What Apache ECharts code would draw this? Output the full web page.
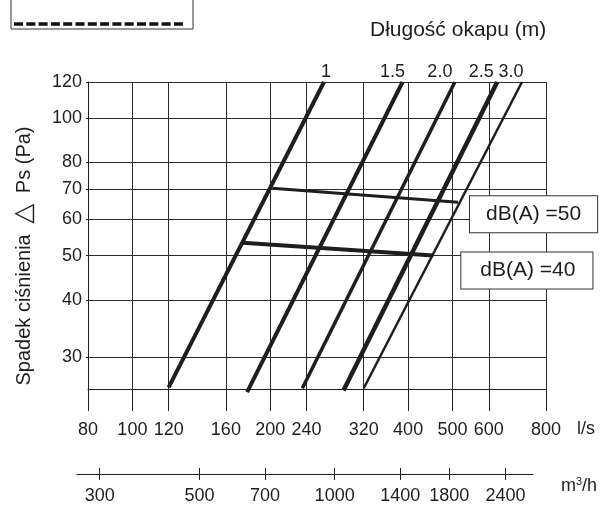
<!DOCTYPE html>
<html>
<head>
<meta charset="UTF-8">
<title>Spadek ciśnienia</title>
<style>
  html, body { margin: 0; padding: 0; background: #fff; }
  #main { width: 602px; height: 505px; }
</style>
<script src="https://cdn.jsdelivr.net/npm/echarts@6/dist/echarts.min.js"></script>
</head>
<body>
<div id="main"></div>
<script>
// hood lengths (m) and their lines: [flow l/s, pressure Pa]
const hoodLengths = ['1', '1.5', '2.0', '2.5', '3.0'];
const line10 = [[120, 25.7], [262, 120]];
const line15 = [[178, 25.1], [389, 120]];
const line20 = [[235, 25.6], [506, 120]];
const line25 = [[289, 25.3], [626, 120]];
const line30 = [[320, 25.6], [709, 120]];
const hoodLines = [line10, line15, line20, line25, line30];

// noise level lines
const db50 = [[202, 70.2], [514, 65.4]];
const db40 = [[174, 53.3], [454, 50.0]];
const noiseNames = ['dB(A) =50', 'dB(A) =40'];

// axes
const flowTicks = [80, 100, 120, 160, 200, 240, 320, 400, 500, 600, 800];
const pressureTicks = [30, 40, 50, 60, 70, 80, 100, 120];
const m3hTicks = [300, 500, 700, 1000, 1400, 1800, 2400];

const FONT = '"Liberation Sans", Arial, sans-serif';
const INK = '#1e1e1e';

var myChart = echarts.init(document.getElementById('main'));

// look of each hood line (widths)
const widths = [4, 4, 3.5, 4.5, 2.5];
const labelShift = [2, -10, -15, -16, -11];

var series = hoodLines.map(function (d, i) {
  return {
    type: 'line',
    name: hoodLengths[i],
    data: d,
    showSymbol: false,
    clip: false,
    lineStyle: { color: INK, width: widths[i] },
    endLabel: {
      show: true,
      formatter: hoodLengths[i],
      align: 'center',
      verticalAlign: 'bottom',
      distance: 0,
      offset: [labelShift[i], -1],
      color: INK,
      fontFamily: FONT,
      fontSize: 18
    }
  };
});

function noiseSeries(data, name, width, dist, dy, padL, padR) {
  return {
    type: 'line',
    name: name,
    data: data,
    showSymbol: false,
    clip: false,
    lineStyle: { color: INK, width: width },
    endLabel: {
      show: true,
      formatter: name,
      distance: dist,
      offset: [0, dy],
      color: INK,
      fontFamily: FONT,
      fontSize: 21,
      backgroundColor: '#fff',
      borderColor: '#333',
      borderWidth: 1,
      padding: [8, padR, 7, padL]
    }
  };
}
series.push(noiseSeries(db50, noiseNames[0], 3, 12, 12, 16, 16));
series.push(noiseSeries(db40, noiseNames[1], 4, 28, 15, 19, 17));

var option = {
  animation: false,
  grid: [
    { left: 88, top: 82, width: 458, height: 307 },
    { left: 77, top: 468, width: 456, height: 14 }
  ],
  xAxis: [{
    type: 'log',
    gridIndex: 0,
    min: 80,
    max: 800,
    axisLine: { show: true, lineStyle: { color: INK, width: 1 } },
    axisTick: { show: true, customValues: flowTicks, length: 22, lineStyle: { color: INK, width: 1 } },
    axisLabel: { customValues: flowTicks, margin: 32, color: INK, fontFamily: FONT, fontSize: 18 },
    splitLine: { show: true, lineStyle: { color: '#2a2a2a', width: 1 } },
    minorTick: { show: false }
  }, {
    type: 'log',
    gridIndex: 1,
    min: 267,
    max: 2764,
    offset: -6,
    axisLine: { show: true, lineStyle: { color: INK, width: 1 } },
    axisTick: { show: false, customValues: m3hTicks },
    axisLabel: {
      customValues: m3hTicks, margin: 13, color: INK, fontFamily: FONT, fontSize: 18,
      formatter: function (v) { return String(Math.round(v)); }
    },
    splitLine: { show: true, lineStyle: { color: INK, width: 1 } }
  }],
  yAxis: [{
    type: 'log',
    gridIndex: 0,
    min: 25.5,
    max: 120,
    axisLine: { show: true, lineStyle: { color: INK, width: 1 } },
    axisTick: { show: true, customValues: pressureTicks, length: 2, lineStyle: { color: INK } },
    axisLabel: { customValues: pressureTicks, margin: 6, color: INK, fontFamily: FONT, fontSize: 18 },
    splitLine: { show: true, lineStyle: { color: '#2a2a2a', width: 1 } }
  }, {
    type: 'value',
    gridIndex: 1,
    show: false
  }],
  graphic: [
    { type: 'rect', shape: { x: 11, y: -10, width: 182, height: 39 },
      style: { fill: 'none', stroke: '#333', lineWidth: 1 } },
    { type: 'line', shape: { x1: 14, y1: 24, x2: 186, y2: 24 },
      style: { stroke: '#111', lineWidth: 3.5, lineDash: [9, 3.3] } },
    { type: 'text', x: 370, y: 30,
      style: { text: 'Długość okapu (m)', font: '21px ' + FONT, fill: INK, verticalAlign: 'middle' } },
    { type: 'text', x: 24, y: 256, rotation: Math.PI / 2,
      style: {
        text: 'Spadek ciśnienia {t|△} Ps (Pa)', font: '20px ' + FONT, fill: INK,
        align: 'center', verticalAlign: 'middle',
        rich: { t: { fontSize: 26, fontFamily: '"DejaVu Sans", sans-serif', fill: INK, padding: [0, 5, 0, 5] } }
      } },
    { type: 'text', x: 577, y: 429,
      style: { text: 'l/s', font: '18px ' + FONT, fill: INK, verticalAlign: 'middle' } },
    { type: 'text', x: 561, y: 486,
      style: { text: 'm{s|3}/h', font: '18px ' + FONT, fill: INK, verticalAlign: 'middle',
        rich: { s: { fontSize: 11, verticalAlign: 'top', padding: [0, 0, 8, 0], fontFamily: FONT, fill: INK } } } }
  ],
  series: series
};

myChart.setOption(option);
</script>
</body>
</html>
